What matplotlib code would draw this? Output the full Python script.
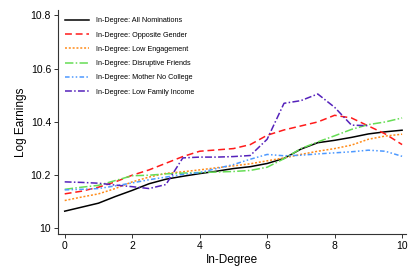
import matplotlib
matplotlib.use("Agg")
import matplotlib.pyplot as plt
import numpy as np

plt.rcParams['font.family'] = ['Liberation Sans', 'DejaVu Sans']

# in-degree grid
x = [0, 0.5, 1, 1.5, 2, 2.5, 3, 3.5, 4, 4.5, 5, 5.5, 6, 6.5, 7, 7.5, 8, 8.5, 9, 9.5, 10]

all_nom = [10.065, 10.08, 10.095, 10.12, 10.143, 10.168, 10.185, 10.196, 10.206, 10.215, 10.225,
           10.232, 10.244, 10.263, 10.298, 10.322, 10.331, 10.342, 10.355, 10.363, 10.369]
opp_gender = [10.13, 10.14, 10.155, 10.175, 10.2, 10.22, 10.245, 10.27, 10.29, 10.295, 10.30,
              10.315, 10.35, 10.37, 10.385, 10.40, 10.425, 10.415, 10.385, 10.355, 10.315]
low_engage = [10.105, 10.118, 10.13, 10.15, 10.175, 10.193, 10.207, 10.213, 10.22, 10.228, 10.235,
              10.243, 10.254, 10.265, 10.278, 10.29, 10.30, 10.313, 10.335, 10.347, 10.354]
disrupt = [10.147, 10.155, 10.162, 10.18, 10.198, 10.2, 10.205, 10.208, 10.21, 10.212, 10.214,
           10.218, 10.23, 10.262, 10.30, 10.325, 10.348, 10.372, 10.39, 10.40, 10.415]
mother_nc = [10.145, 10.147, 10.15, 10.16, 10.171, 10.183, 10.193, 10.203, 10.21, 10.225, 10.24,
             10.26, 10.278, 10.273, 10.275, 10.28, 10.284, 10.288, 10.294, 10.29, 10.271]
x_inc = [0, 0.5, 1, 1.5, 2, 2.5, 3, 3.5, 4, 4.5, 5, 5.5, 6, 6.5, 7, 7.5, 8, 8.5, 9]
low_income = [10.175, 10.173, 10.17, 10.163, 10.157, 10.15, 10.165, 10.265, 10.268, 10.268, 10.27,
              10.274, 10.335, 10.47, 10.48, 10.505, 10.455, 10.388, 10.386]

fig = plt.figure(figsize=(4.2, 2.8), dpi=100)
ax = fig.add_axes([0.138, 0.164, 0.829, 0.8])

lw = 1.1
ax.plot(x, all_nom, color='black', lw=lw, label='In-Degree: All Nominations')
ax.plot(x, opp_gender, color='#ff1a1a', lw=lw, ls=(0, (4.5, 2.5)), label='In-Degree: Opposite Gender')
ax.plot(x, low_engage, color='#ff8c1a', lw=lw, ls=(0, (1.3, 1.2)), label='In-Degree: Low Engagement')
ax.plot(x, disrupt, color='#66dd55', lw=lw, ls=(0, (5.5, 1.5, 1, 1.5)), label='In-Degree: Disruptive Friends')
ax.plot(x, mother_nc, color='#4d99ff', lw=lw, ls=(0, (3, 1.5, 1, 1.5, 1, 1.5)), label='In-Degree: Mother No College')
ax.plot(x_inc, low_income, color='#5522bb', lw=lw, ls=(0, (4.5, 1.5, 1, 1.5)), label='In-Degree: Low Family Income')

ax.set_xlim(-0.2, 10.12)
ax.set_ylim(9.979, 10.82)
ax.set_xticks([0, 2, 4, 6, 8, 10])
ax.set_yticks([10, 10.2, 10.4, 10.6, 10.8])
ax.set_yticklabels(['10', '10.2', '10.4', '10.6', '10.8'])
ax.spines['top'].set_visible(False)
ax.spines['right'].set_visible(False)
for s in ['left', 'bottom']:
    ax.spines[s].set_color('#333333')
    ax.spines[s].set_linewidth(0.8)
ax.tick_params(labelsize=7.5, length=3, width=0.7, color='#333333', pad=2)
ax.set_xlabel('In-Degree', fontsize=8.5, labelpad=2)
ax.set_ylabel('Log Earnings', fontsize=8.5, labelpad=2.5)

ax.legend(loc='upper left', bbox_to_anchor=(0.0, 1.0), frameon=False, fontsize=5.2,
          handlelength=3.3, handletextpad=0.9, labelspacing=1.0, borderaxespad=0.6)

fig.savefig('out.png', dpi=100)
